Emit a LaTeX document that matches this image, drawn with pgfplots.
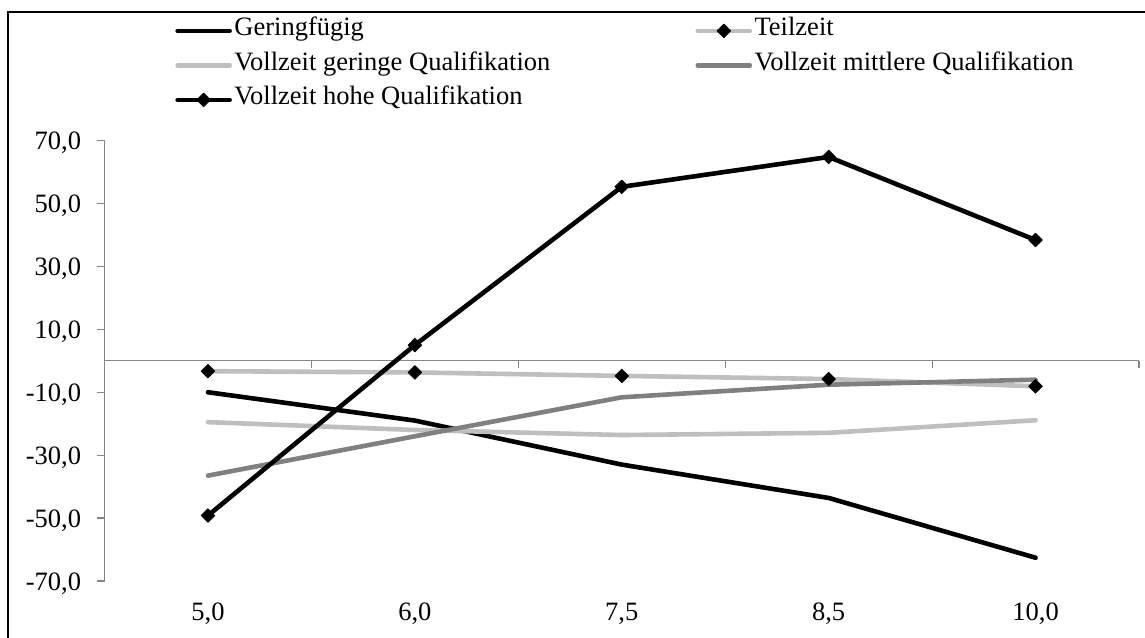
\documentclass[border=0pt]{standalone}
\usepackage{fontspec}
\setmainfont{Liberation Serif}
\usepackage{pgfplots}
\pgfplotsset{compat=1.18}
\definecolor{lgray}{HTML}{BFBFBF}
\definecolor{mgray}{HTML}{808080}
\definecolor{agray}{HTML}{868686}
\newcommand{\chfont}{\fontsize{13.25}{16}\selectfont}

\begin{document}
\begin{tikzpicture}
\useasboundingbox (0,0) rectangle (572.5pt,318.5pt);
\begin{axis}[
  at={(52.25pt,28pt)}, anchor=south west,
  scale only axis, width=517.25pt, height=220.2pt,
  xmin=-0.5, xmax=4.5, ymin=-70, ymax=70,
  axis x line*=bottom, axis y line*=left,
  x axis line style={draw=none},
  y axis line style={draw=agray, line width=0.6pt, -},
  xtick={0,1,2,3,4}, xticklabels={{5,0},{6,0},{7,5},{8,5},{10,0}},
  ytick={-70,-50,-30,-10,10,30,50,70},
  yticklabels={{-70,0},{-50,0},{-30,0},{-10,0},{10,0},{30,0},{50,0},{70,0}},
  tick style={draw=none},
  major tick length=0pt,
  tick label style={font=\chfont, text=black},
  yticklabel style={anchor=base east, inner sep=0pt, xshift=-11.5pt, yshift=-4.5pt},
  xticklabel style={anchor=base, inner sep=0pt, yshift=-19.85pt},
  clip=false,
  legend columns=2,
  legend cell align=left,
  legend image code/.code={\draw[#1, mark repeat=2, mark phase=2] plot coordinates {(0pt,0pt) (13pt,0pt) (26pt,0pt)};},
  legend style={draw=none, fill=none, at={(0.0681,1.2784)}, anchor=north west,
    inner sep=0pt, row sep=4.75pt, font=\chfont,
    nodes={inner sep=1.25pt, text height=0.75em, text depth=0.25em},
    /tikz/every even column/.append style={column sep=71.3pt}},
]
\draw[agray, line width=0.6pt] (axis cs:-0.5,0) -- (axis cs:4.5,0);
\pgfplotsinvokeforeach{0.5,1.5,2.5,3.5,4.5}{\draw[agray, line width=0.6pt] (axis cs:#1,0) -- ++(0pt,-3.5pt);}
\pgfplotsinvokeforeach{-70,-50,-30,-10,10,30,50,70}{\draw[agray, line width=0.6pt] (axis cs:-0.5,#1) -- ++(-4pt,0pt);}

\addplot[black, line width=2.3pt, line cap=round, line join=round, mark=none]
  coordinates {(0,-10.0) (1,-19.0) (2,-33.0) (3,-43.6) (4,-62.6)};
\addlegendentry{Geringfügig}
\addplot[lgray, line width=2.3pt, line cap=round, line join=round, mark=square*, mark size=2.4pt,
  mark options={rotate=45, fill=black, draw=black, line width=0.4pt}]
  coordinates {(0,-3.3) (1,-3.7) (2,-4.8) (3,-5.8) (4,-8.1)};
\addlegendentry{Teilzeit}
\addplot[lgray, line width=2.3pt, line cap=round, line join=round, mark=none]
  coordinates {(0,-19.5) (1,-22.0) (2,-23.6) (3,-22.9) (4,-18.9)};
\addlegendentry{Vollzeit geringe Qualifikation}
\addplot[mgray, line width=2.3pt, line cap=round, line join=round, mark=none]
  coordinates {(0,-36.5) (1,-24.0) (2,-11.6) (3,-7.6) (4,-6.0)};
\addlegendentry{Vollzeit mittlere Qualifikation}
\addplot[black, line width=2.3pt, line cap=round, line join=round, mark=square*, mark size=2.4pt,
  mark options={rotate=45, fill=black, draw=black, line width=0.4pt}]
  coordinates {(0,-49.2) (1,5.0) (2,55.3) (3,64.8) (4,38.4)};
\addlegendentry{Vollzeit hohe Qualifikation}
\end{axis}
\draw[black, line width=1pt] (4.15pt,-20pt) rectangle (620pt,312.65pt);
\end{tikzpicture}
\end{document}
